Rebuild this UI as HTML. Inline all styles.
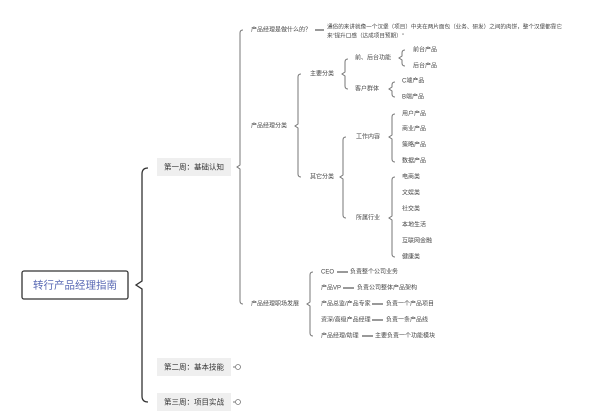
<!DOCTYPE html>
<html><head><meta charset="utf-8"><style>
html,body{margin:0;padding:0;background:#fff;}
svg{display:block;}
text{font-family:"Liberation Sans","Noto Sans CJK SC",sans-serif;fill:#444;font-size:6px;dominant-baseline:middle;}
.w{font-size:7.5px;fill:#333;}
path,line{fill:none;stroke:#777;stroke-width:1;}
</style></head><body>
<svg width="600" height="420" viewBox="0 0 600 420">
<rect x="22" y="271" width="106" height="28" rx="2" fill="#fff" stroke="#333" stroke-width="1.3"/>
<text x="75" y="285.5" text-anchor="middle" style="font-size:10.5px;fill:#5a6ab5;">转行产品经理指南</text>
<path d="M148,168 Q142,168 142,174 L142,281 L136,285 L142,289 L142,396 Q142,402 148,402" style="stroke:#333;stroke-width:1.3"/>
<rect x="157" y="158" width="74" height="18" fill="#efefef"/>
<text class="w" x="164" y="167.5">第一周：基础认知</text>
<rect x="157" y="358" width="74" height="18" fill="#efefef"/>
<text class="w" x="164" y="367.5">第二周：基本技能</text>
<rect x="157" y="393" width="74" height="18" fill="#efefef"/>
<text class="w" x="164" y="402.5">第三周：项目实战</text>
<line x1="233" y1="367" x2="235" y2="367"/><circle cx="238" cy="367" r="2.5" fill="#fff" stroke="#777" stroke-width="0.8"/>
<line x1="233" y1="402" x2="235" y2="402"/><circle cx="238" cy="402" r="2.5" fill="#fff" stroke="#777" stroke-width="0.8"/>
<path d="M243,30 Q240,30 240,33 L240,165 L237,167 L240,169 L240,301 Q240,304 243,304"/>
<text x="251" y="30">产品经理是做什么的？</text>
<line x1="315" y1="30" x2="324" y2="30" style="stroke:#333"/>
<text x="327" y="27" style="font-size:5.6px">通俗的来讲就像一个汉堡（项目）中夹在两片面包（业务、研发）之间的肉饼，整个汉堡都靠它</text>
<text x="327" y="36" style="font-size:5.6px">来"提升口感（达成项目预期）"</text>
<text x="251" y="126">产品经理分类</text>
<text x="251" y="304">产品经理职场发展</text>
<path d="M301,74 Q298,74 298,77 L298,124 L295,126 L298,128 L298,174 Q298,177 301,177"/>
<text x="310" y="74">主要分类</text>
<text x="310" y="177">其它分类</text>
<path d="M348,59 Q345,59 345,62 L345,72 L342,74 L345,76 L345,86 Q345,89 348,89"/>
<text x="355" y="58">前、后台功能</text>
<text x="355" y="89">客户群体</text>
<path d="M405,50 Q402,50 402,53 L402,56 L399,58 L402,60 L402,63 Q402,66 405,66"/>
<text x="413" y="50">前台产品</text>
<text x="413" y="66">后台产品</text>
<path d="M395,82 Q392,82 392,85 L392,87 L389,89 L392,91 L392,94 Q392,97 395,97"/>
<text x="402" y="81">C端产品</text>
<text x="402" y="97">B端产品</text>
<path d="M346,137 Q343,137 343,140 L343,175 L340,177 L343,179 L343,215 Q343,218 346,218"/>
<text x="356" y="137">工作内容</text>
<text x="356" y="218">所属行业</text>
<path d="M395,114 Q392,114 392,117 L392,135 L389,137 L392,139 L392,159 Q392,162 395,162"/>
<text x="402" y="114">用户产品</text>
<text x="402" y="129">商业产品</text>
<text x="402" y="145">策略产品</text>
<text x="402" y="161">数据产品</text>
<path d="M395,177 Q392,177 392,180 L392,216 L389,218 L392,220 L392,254 Q392,257 395,257"/>
<text x="402" y="177">电商类</text>
<text x="402" y="193">文娱类</text>
<text x="402" y="209">社交类</text>
<text x="402" y="225">本地生活</text>
<text x="402" y="241">互联网金融</text>
<text x="402" y="257">健康类</text>
<path d="M313,272 Q310,272 310,275 L310,302 L307,304 L310,306 L310,333 Q310,336 313,336"/>
<text x="321" y="272">CEO</text><line x1="337" y1="272" x2="348" y2="272" style="stroke:#333"/><text x="350" y="272">负责整个公司业务</text>
<text x="321" y="288">产品VP</text><line x1="343" y1="288" x2="354" y2="288" style="stroke:#333"/><text x="357" y="288">负责公司整体产品架构</text>
<text x="321" y="304">产品总监/产品专家</text><line x1="372" y1="304" x2="383" y2="304" style="stroke:#333"/><text x="386" y="304">负责一个产品项目</text>
<text x="321" y="320">资深/高级产品经理</text><line x1="372" y1="320" x2="383" y2="320" style="stroke:#333"/><text x="386" y="320">负责一条产品线</text>
<text x="321" y="336">产品经理/助理</text><line x1="362" y1="336" x2="373" y2="336" style="stroke:#333"/><text x="375" y="336">主要负责一个功能模块</text>
</svg>
</body></html>
